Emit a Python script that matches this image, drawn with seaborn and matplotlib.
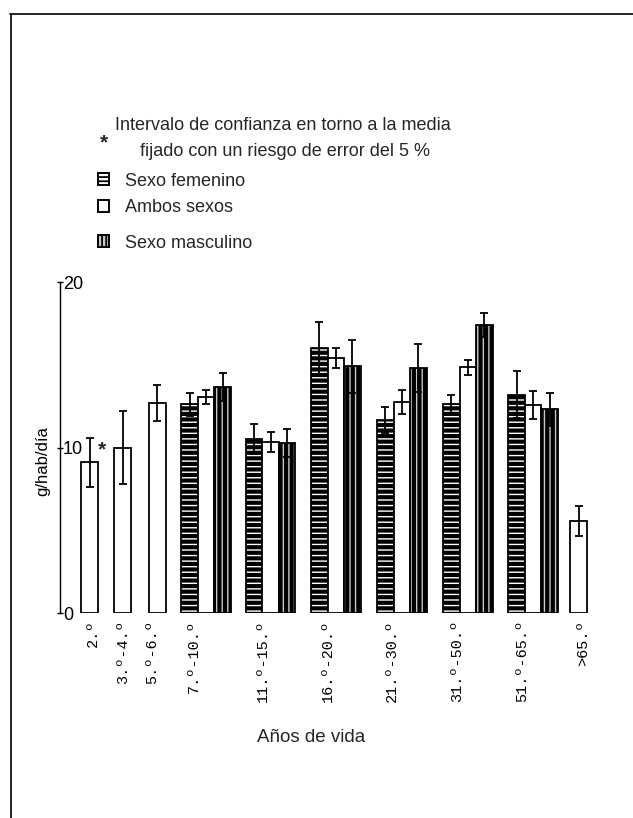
import numpy as np
import pandas as pd
import matplotlib
matplotlib.use("Agg")
import matplotlib.pyplot as plt
import seaborn as sns
from matplotlib.colors import to_hex
from matplotlib.patches import Rectangle
from matplotlib.lines import Line2D

# Consumo medio (g/hab/día) por grupo de edad y sexo, con su intervalo de confianza (±)
grupos = ["2.º", "3.º-4.º", "5.º-6.º", "7.º-10.º", "11.º-15.º",
          "16.º-20.º", "21.º-30.º", "31.º-50.º", "51.º-65.º", ">65.º"]
femenino = [np.nan, np.nan, np.nan, 12.6, 10.5, 16.0, 11.65, 12.6, 13.2, np.nan]
femenino_ic = [np.nan, np.nan, np.nan, 0.7, 0.9, 1.6, 0.8, 0.55, 1.4, np.nan]
ambos = [9.1, 10.0, 12.7, 13.05, 10.35, 15.4, 12.75, 14.85, 12.55, 5.55]
ambos_ic = [1.5, 2.2, 1.1, 0.45, 0.6, 0.6, 0.75, 0.45, 0.85, 0.9]
masculino = [np.nan, np.nan, np.nan, 13.65, 10.25, 14.9, 14.8, 17.4, 12.3, np.nan]
masculino_ic = [np.nan, np.nan, np.nan, 0.85, 0.85, 1.6, 1.45, 0.75, 1.0, np.nan]

series = ["Sexo femenino", "Ambos sexos", "Sexo masculino"]

# Layout: centre of each age group on the x axis (bar-width units) and label spots
centro_grupo = [1.8, 3.8, 5.9, 8.85, 12.75, 16.7, 20.7, 24.7, 28.65, 31.4]
pos_etiqueta = [2.0, 3.82, 5.6, 8.1, 12.3, 16.2, 20.1, 24.05, 28.0, 31.7]
desplazamiento = {"Sexo femenino": -1.0, "Ambos sexos": 0.0, "Sexo masculino": 1.0}

filas = []
for i, g in enumerate(grupos):
    trio = not np.isnan(femenino[i])
    for s, vals, ics in zip(series, [femenino, ambos, masculino],
                            [femenino_ic, ambos_ic, masculino_ic]):
        if np.isnan(vals[i]):
            continue
        off = desplazamiento[s] if trio else 0.0
        filas.append({"grupo": g, "sexo": s, "pos": centro_grupo[i] + off,
                      "valor": vals[i], "ic": ics[i]})
df = pd.DataFrame(filas)

sns.set_theme(style="white")
plt.rcParams["font.family"] = ["Liberation Sans", "DejaVu Sans"]
plt.rcParams["hatch.linewidth"] = 3.0

W, H = 633, 818
fig = plt.figure(figsize=(W / 100, H / 100), dpi=100)
fig.patch.set_facecolor("white")
ax = fig.add_axes([60 / W, 1 - 613 / H, 540 / W, 331 / H])

paleta = {"Sexo femenino": "#010101", "Ambos sexos": "#ffffff", "Sexo masculino": "#bfbfbf"}
sns.barplot(data=df, x="pos", y="valor", hue="sexo", hue_order=series,
            palette=paleta, native_scale=True, dodge=False, width=1.0,
            errorbar=None, edgecolor="black", linewidth=1.3, legend=False, ax=ax)

for p in ax.patches:
    c = to_hex(p.get_facecolor())
    if c == "#010101":
        p.set_facecolor("white")
        p.set_hatch("---")
    elif c == "#bfbfbf":
        p.set_facecolor("#c8c8c8")
        p.set_hatch("|||")
    p.set_edgecolor("black")

ax.errorbar(df["pos"], df["valor"], yerr=df["ic"], fmt="none", ecolor="black",
            elinewidth=1.3, capsize=3, capthick=1.3, zorder=5)

# asterisk next to the first confidence interval
ax.text(2.3, 9.85, "*", fontsize=15, fontweight="bold", ha="left", va="center")

ax.set_xlim(0, 32.7)
ax.set_ylim(0, 20)
for side in ["top", "right", "bottom"]:
    ax.spines[side].set_visible(False)
ax.spines["left"].set_color("black")
ax.spines["left"].set_linewidth(1.0)

ax.set_yticks([0, 10, 20])
ax.set_yticklabels(["0", "10", "20"])
ax.tick_params(axis="y", left=True, direction="inout", length=5, width=1,
               pad=-4.5, labelsize=13, colors="black")
for lab in ax.get_yticklabels():
    lab.set_horizontalalignment("left")

ax.set_xticks(pos_etiqueta)
ax.set_xticklabels(grupos, rotation=90, fontsize=11, family=["Liberation Mono", "DejaVu Sans"])
ax.tick_params(axis="x", bottom=False, length=0, pad=5, colors="black")
ax.set_xlabel("")
ax.set_ylabel("g/hab/día", fontsize=12, color="black")
ax.yaxis.set_label_coords(-0.018, 0.46)

fig.text(311 / W, 1 - 737 / H, "Años de vida", fontsize=13.5, ha="center", va="center")

# legend block
tam = 13
fig.text(100 / W, 1 - 143 / H, "*", fontsize=15, fontweight="bold", ha="left", va="center")
fig.text(115 / W, 1 - 126 / H, "Intervalo de confianza en torno a la media",
         fontsize=tam, ha="left", va="center")
fig.text(140 / W, 1 - 152 / H, "fijado con un riesgo de error del 5 %",
         fontsize=tam, ha="left", va="center")
fig.text(125 / W, 1 - 182 / H, "Sexo femenino", fontsize=tam, ha="left", va="center")
fig.text(125 / W, 1 - 208 / H, "Ambos sexos", fontsize=tam, ha="left", va="center")
fig.text(125 / W, 1 - 243 / H, "Sexo masculino", fontsize=tam, ha="left", va="center")

plt.rcParams["hatch.linewidth"] = 1.3
for yc, hatch, fc in [(179, "----", "white"), (206, "", "white"), (241, "||||", "#c8c8c8")]:
    fig.add_artist(Rectangle((98 / W, 1 - (yc + 6) / H), 11 / W, 12 / H,
                             transform=fig.transFigure, facecolor=fc,
                             edgecolor="black", linewidth=1.4, hatch=hatch))

# page frame lines
fig.add_artist(Line2D([10 / W, 1.0], [1 - 14 / H, 1 - 14 / H], transform=fig.transFigure,
                      color="black", linewidth=1.2))
fig.add_artist(Line2D([11 / W, 11 / W], [1 - 14 / H, 0.0], transform=fig.transFigure,
                      color="black", linewidth=1.2))

fig.savefig("out.png", dpi=100)
